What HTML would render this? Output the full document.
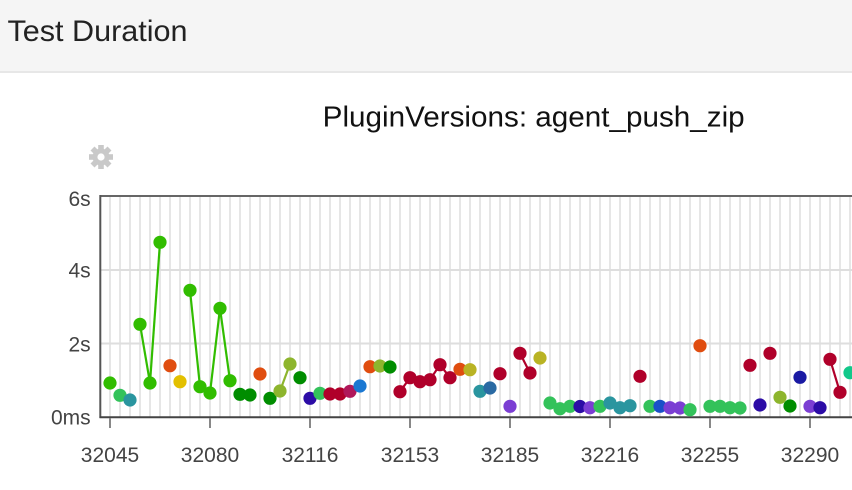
<!DOCTYPE html>
<html>
<head>
<meta charset="utf-8">
<style>
html,body{margin:0;padding:0;background:#fff;}
body{width:852px;height:490px;overflow:hidden;}
svg{display:block;}
text{font-family:"Liberation Sans",Arial,sans-serif;}
</style>
</head>
<body>
<svg width="852" height="490" viewBox="0 0 852 490" xmlns="http://www.w3.org/2000/svg">
  <!-- header -->
  <rect x="0" y="0" width="852" height="71" fill="#f5f5f5"/>
  <rect x="0" y="71" width="852" height="2" fill="#e7e7e7"/>
  <text x="7.5" y="41" font-size="30" fill="#222" textLength="180" lengthAdjust="spacingAndGlyphs">Test Duration</text>

  <!-- title -->
  <text x="322.7" y="126.5" font-size="29" fill="#111" textLength="422" lengthAdjust="spacingAndGlyphs">PluginVersions: agent_push_zip</text>

  <!-- gear -->
  <g transform="translate(101,157)" fill="#c9c9c9">
    <circle r="8.5"/>
    <rect x="-2.8" y="-12" width="5.6" height="24"/>
    <rect x="-2.8" y="-12" width="5.6" height="24" transform="rotate(45)"/>
    <rect x="-2.8" y="-12" width="5.6" height="24" transform="rotate(90)"/>
    <rect x="-2.8" y="-12" width="5.6" height="24" transform="rotate(135)"/>
    <circle r="3.6" fill="#fff"/>
  </g>

  <!-- vertical grid -->
  <g id="vgrid" stroke="#e6e6e6" stroke-width="2"></g>
  <!-- horizontal grid -->
  <line x1="101" y1="270" x2="852" y2="270" stroke="#dedede" stroke-width="2"/>
  <line x1="101" y1="343.5" x2="852" y2="343.5" stroke="#dedede" stroke-width="2"/>

  <!-- frame -->
  <line x1="100" y1="196" x2="852" y2="196" stroke="#666" stroke-width="2"/>
  <line x1="100.3" y1="195" x2="100.3" y2="418" stroke="#555" stroke-width="2"/>
  <line x1="99.5" y1="417.3" x2="852" y2="417.3" stroke="#444" stroke-width="2"/>

  <!-- x ticks -->
  <g stroke="#888" stroke-width="2">
    <line x1="110" y1="418" x2="110" y2="428"/>
    <line x1="210" y1="418" x2="210" y2="428"/>
    <line x1="310" y1="418" x2="310" y2="428"/>
    <line x1="410" y1="418" x2="410" y2="428"/>
    <line x1="510" y1="418" x2="510" y2="428"/>
    <line x1="610" y1="418" x2="610" y2="428"/>
    <line x1="710" y1="418" x2="710" y2="428"/>
    <line x1="810" y1="418" x2="810" y2="428"/>
  </g>
  <g font-size="21" fill="#444" text-anchor="middle">
    <text x="110" y="462">32045</text>
    <text x="210" y="462">32080</text>
    <text x="310" y="462">32116</text>
    <text x="410" y="462">32153</text>
    <text x="510" y="462">32185</text>
    <text x="610" y="462">32216</text>
    <text x="710" y="462">32255</text>
    <text x="810" y="462">32290</text>
  </g>
  <!-- y labels -->
  <g font-size="21" fill="#444" text-anchor="end">
    <text x="90.7" y="206">6s</text>
    <text x="90.7" y="277.5">4s</text>
    <text x="90.7" y="351.5">2s</text>
    <text x="90.7" y="424.5">0ms</text>
  </g>

  <g id="lines" stroke-width="2.2" fill="none"></g>
  <g id="pts"></g>
</svg>
<script>
(function(){
  var ns="http://www.w3.org/2000/svg";
  var vg=document.getElementById("vgrid");
  for(var x=110;x<=850;x+=10){
    var l=document.createElementNS(ns,"line");
    l.setAttribute("x1",x);l.setAttribute("x2",x);
    l.setAttribute("y1",197);l.setAttribute("y2",416.5);
    vg.appendChild(l);
  }
  var C={
    G1:"#31bd00",MG:"#33c25a",TE:"#2a959f",OR:"#e04d0f",YE:"#e3c000",
    DG:"#008d00",OL:"#8db52d",DB:"#2c0ca6",CR:"#b0002a",MA:"#b0185a",
    BL:"#1a78d2",OY:"#b9b324",SB:"#2a6aa3",PU:"#7b3ed3",BL2:"#1a50c8",
    DB2:"#1a1aa3",TG:"#12c88a"
  };
  var d=[
  [110,383,"G1",0],[120,395.3,"MG",0],[130,400,"TE",0],[140,324.3,"G1",0],
  [150,383,"G1",1],[160,242.3,"G1",1],[170,365.7,"OR",0],[180,381.7,"YE",0],
  [190,290.3,"G1",0],[200,386.7,"G1",1],[210,393,"G1",1],[220,308.3,"G1",1],
  [230,380.7,"G1",1],[240,394.3,"DG",0],[250,395,"DG",0],[260,374,"OR",0],
  [270,398.3,"DG",0],[280,391,"OL",0],[290,364,"OL",1],[300,377.7,"DG",0],
  [310,398.3,"DB",0],[320,393.3,"MG",0],[330,394,"CR",0],[340,394,"CR",0],
  [350,391.3,"MA",0],[360,386,"BL",0],[370,366.7,"OR",0],[380,366,"OL",0],
  [390,367,"DG",0],[400,391.7,"CR",0],[410,377.7,"CR",1],[420,381.7,"CR",1],
  [430,379.7,"CR",1],[440,364.7,"CR",1],[450,377.7,"CR",1],[460,369.3,"OR",0],
  [470,369.7,"OY",0],[480,391.3,"TE",0],[490,388,"SB",0],[500,373.7,"CR",0],
  [510,406.3,"PU",0],[520,353.3,"CR",0],[530,373,"CR",1],[540,358,"OY",0],
  [550,403,"MG",0],[560,408.7,"MG",0],[570,406.3,"MG",0],[580,406.5,"DB",0],
  [590,407.7,"PU",0],[600,406.3,"MG",0],[610,403,"TE",0],[620,407.7,"TE",0],
  [630,405.7,"TE",0],[640,376.3,"CR",0],[650,406.3,"MG",0],[660,406.3,"BL2",0],
  [670,407.7,"PU",0],[680,408,"PU",0],[690,409.7,"MG",0],[700,345.7,"OR",0],
  [710,406.3,"MG",0],[720,406.3,"MG",0],[730,407.7,"MG",0],[740,408,"MG",0],
  [750,365.3,"CR",0],[760,405,"DB",0],[770,353.3,"CR",0],[780,397.3,"OL",0],
  [790,406,"DG",0],[800,377.3,"DB2",0],[810,406.3,"PU",0],[820,407.7,"DB",0],
  [830,359.3,"CR",0],[840,392.3,"CR",1],[850,372.7,"TG",0]
  ];
  var lg=document.getElementById("lines"),pg=document.getElementById("pts");
  for(var i=0;i<d.length;i++){
    if(d[i][3]&&i>0){
      var l=document.createElementNS(ns,"line");
      l.setAttribute("x1",d[i-1][0]);l.setAttribute("y1",d[i-1][1]);
      l.setAttribute("x2",d[i][0]);l.setAttribute("y2",d[i][1]);
      l.setAttribute("stroke",C[d[i][2]]);
      lg.appendChild(l);
    }
  }
  for(var i=0;i<d.length;i++){
    var c=document.createElementNS(ns,"circle");
    c.setAttribute("cx",d[i][0]);c.setAttribute("cy",d[i][1]);
    c.setAttribute("r",6.6);c.setAttribute("fill",C[d[i][2]]);
    pg.appendChild(c);
  }
})();
</script>
</body>
</html>
